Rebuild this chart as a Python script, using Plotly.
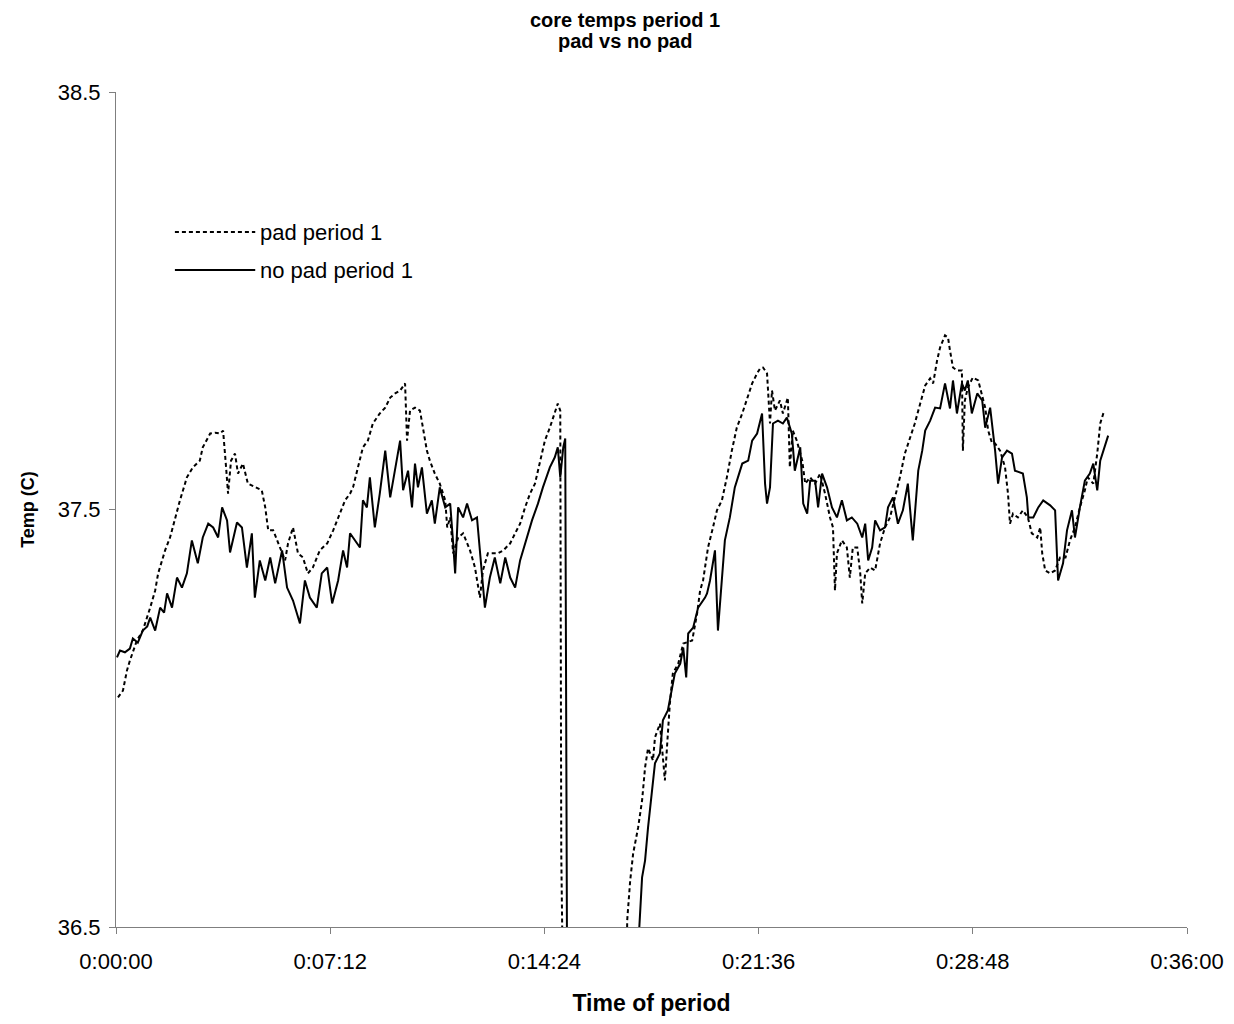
import plotly.graph_objects as go

# ---- data (time in seconds from start of period, temperature in deg C) ----
no_pad_t = [2, 8, 18, 28, 34, 44, 54, 63, 69, 79,
            89, 97, 103, 113, 123, 133, 143, 153, 165, 175,
            186, 196, 206, 214, 224, 230, 244, 254, 264, 274,
            280, 290, 301, 311, 321, 335, 345, 357, 371, 381,
            391, 405, 415, 426, 436, 448, 458, 466, 472, 482,
            492, 498, 506, 512, 522, 532, 543, 553, 563, 573,
            579, 589, 597, 603, 609, 617, 627, 637, 643, 653,
            664, 674, 680, 684, 690, 700, 708, 718, 728, 734,
            744, 754, 764, 775, 785, 795, 805, 815, 829, 839,
            851, 861, 875, 885, 891, 896, 902, 906, 910, 980,
            1051, 1055, 1061, 1067, 1073, 1081, 1087, 1097, 1103, 1113,
            1121, 1127, 1138, 1144, 1150, 1154, 1164, 1174, 1188, 1192,
            1198, 1208, 1214, 1222, 1228, 1238, 1248, 1263, 1275, 1283,
            1293, 1303, 1309, 1313, 1319, 1325, 1335, 1345, 1353, 1363,
            1369, 1380, 1386, 1394, 1400, 1410, 1416, 1424, 1434, 1444,
            1454, 1464, 1474, 1484, 1495, 1505, 1511, 1517, 1525, 1531,
            1541, 1551, 1557, 1567, 1577, 1587, 1597, 1607, 1618, 1626,
            1632, 1642, 1652, 1662, 1672, 1682, 1688, 1696, 1706, 1712,
            1718, 1726, 1737, 1747, 1753, 1763, 1773, 1779, 1787, 1797,
            1807, 1813, 1829, 1837, 1840, 1850, 1860, 1870, 1884, 1894,
            1900, 1910, 1918, 1928, 1934, 1944, 1954, 1964, 1971, 1979,
            1985, 2001]
no_pad_temp = [37.146, 37.162, 37.158, 37.167, 37.191, 37.181, 37.210, 37.220, 37.241, 37.210,
               37.265, 37.253, 37.299, 37.265, 37.337, 37.313, 37.347, 37.426, 37.371, 37.433,
               37.466, 37.457, 37.433, 37.505, 37.474, 37.397, 37.469, 37.457, 37.361, 37.443,
               37.289, 37.378, 37.330, 37.385, 37.323, 37.402, 37.313, 37.282, 37.227, 37.330,
               37.289, 37.265, 37.347, 37.361, 37.275, 37.330, 37.402, 37.361, 37.443, 37.426,
               37.409, 37.522, 37.505, 37.577, 37.457, 37.538, 37.641, 37.529, 37.593, 37.665,
               37.546, 37.593, 37.505, 37.610, 37.553, 37.601, 37.490, 37.522, 37.466, 37.553,
               37.505, 37.514, 37.419, 37.347, 37.505, 37.481, 37.514, 37.474, 37.481, 37.395,
               37.265, 37.337, 37.385, 37.323, 37.385, 37.337, 37.313, 37.378, 37.433, 37.474,
               37.514, 37.553, 37.601, 37.625, 37.649, 37.577, 37.649, 37.670, 36.30, 36.20,
               36.30, 36.49, 36.619, 36.659, 36.738, 36.820, 36.892, 36.916, 36.995, 37.019,
               37.066, 37.107, 37.131, 37.169, 37.098, 37.203, 37.217, 37.265, 37.289, 37.299,
               37.330, 37.402, 37.210, 37.330, 37.426, 37.481, 37.553, 37.610, 37.617, 37.665,
               37.682, 37.730, 37.562, 37.514, 37.553, 37.706, 37.713, 37.706, 37.720, 37.682,
               37.593, 37.649, 37.514, 37.490, 37.569, 37.569, 37.505, 37.586, 37.553, 37.505,
               37.481, 37.522, 37.474, 37.481, 37.466, 37.433, 37.466, 37.378, 37.409, 37.474,
               37.450, 37.457, 37.505, 37.529, 37.466, 37.498, 37.562, 37.426, 37.593, 37.641,
               37.689, 37.713, 37.744, 37.742, 37.802, 37.742, 37.809, 37.730, 37.802, 37.785,
               37.809, 37.730, 37.778, 37.761, 37.696, 37.744, 37.641, 37.562, 37.625, 37.641,
               37.634, 37.593, 37.586, 37.529, 37.481, 37.481, 37.505, 37.522, 37.510, 37.498,
               37.330, 37.371, 37.450, 37.498, 37.433, 37.505, 37.569, 37.586, 37.610, 37.546,
               37.617, 37.677]

pad_t = [4, 14, 22, 28, 42, 54, 69, 79, 85, 93,
         99, 109, 119, 129, 143, 155, 169, 175, 190, 200,
         210, 216, 222, 226, 232, 240, 246, 256, 266, 280,
         294, 301, 307, 317, 331, 341, 347, 357, 367, 377,
         387, 397, 411, 426, 438, 452, 462, 472, 478, 488,
         498, 508, 518, 532, 543, 553, 563, 573, 583, 587,
         593, 603, 613, 619, 627, 633, 643, 653, 664, 668,
         674, 680, 690, 700, 714, 724, 734, 740, 750, 760,
         770, 781, 795, 805, 815, 825, 835, 845, 855, 865,
         875, 881, 891, 896, 898, 902, 960, 1029, 1031, 1037,
         1043, 1053, 1061, 1067, 1073, 1083, 1087, 1097, 1107, 1113,
         1117, 1123, 1134, 1144, 1162, 1172, 1178, 1184, 1188, 1194,
         1204, 1212, 1222, 1232, 1242, 1252, 1263, 1273, 1283, 1293,
         1299, 1305, 1313, 1319, 1323, 1329, 1339, 1345, 1355, 1359,
         1365, 1373, 1384, 1390, 1400, 1410, 1420, 1430, 1440, 1446,
         1450, 1454, 1464, 1474, 1480, 1486, 1495, 1501, 1505, 1511,
         1521, 1531, 1541, 1551, 1561, 1571, 1581, 1591, 1601, 1611,
         1622, 1632, 1642, 1648, 1656, 1662, 1672, 1678, 1682, 1688,
         1696, 1706, 1708, 1712, 1718, 1728, 1739, 1747, 1753, 1759,
         1767, 1773, 1783, 1793, 1799, 1803, 1809, 1819, 1829, 1839,
         1847, 1858, 1864, 1868, 1874, 1884, 1894, 1904, 1915, 1924,
         1934, 1944, 1954, 1960, 1971, 1979, 1985, 1993]
pad_temp = [37.050, 37.066, 37.114, 37.138, 37.186, 37.210, 37.265, 37.306, 37.347, 37.378,
            37.402, 37.433, 37.481, 37.522, 37.577, 37.601, 37.617, 37.649, 37.682, 37.684,
            37.682, 37.689, 37.601, 37.538, 37.617, 37.634, 37.586, 37.610, 37.562, 37.553,
            37.546, 37.505, 37.450, 37.450, 37.409, 37.378, 37.419, 37.457, 37.395, 37.385,
            37.347, 37.361, 37.402, 37.419, 37.450, 37.490, 37.522, 37.538, 37.553, 37.601,
            37.649, 37.665, 37.706, 37.730, 37.744, 37.768, 37.778, 37.785, 37.802, 37.665,
            37.737, 37.744, 37.737, 37.696, 37.641, 37.617, 37.586, 37.562, 37.522, 37.457,
            37.481, 37.395, 37.433, 37.443, 37.402, 37.361, 37.289, 37.354, 37.395, 37.395,
            37.395, 37.402, 37.419, 37.443, 37.466, 37.505, 37.538, 37.562, 37.617, 37.665,
            37.696, 37.720, 37.754, 37.737, 36.676, 36.30, 36.20, 36.30, 36.516, 36.611,
            36.676, 36.738, 36.803, 36.882, 36.928, 36.899, 36.954, 36.987, 36.851, 36.963,
            37.035, 37.107, 37.131, 37.179, 37.186, 37.251, 37.306, 37.330, 37.361, 37.409,
            37.457, 37.498, 37.522, 37.577, 37.641, 37.696, 37.730, 37.768, 37.802, 37.826,
            37.838, 37.840, 37.826, 37.706, 37.785, 37.737, 37.761, 37.730, 37.768, 37.601,
            37.689, 37.665, 37.617, 37.562, 37.577, 37.562, 37.586, 37.538, 37.481, 37.457,
            37.306, 37.395, 37.426, 37.409, 37.337, 37.409, 37.409, 37.347, 37.275, 37.347,
            37.361, 37.354, 37.419, 37.457, 37.481, 37.529, 37.577, 37.634, 37.672, 37.706,
            37.754, 37.797, 37.814, 37.802, 37.857, 37.888, 37.917, 37.912, 37.881, 37.840,
            37.833, 37.833, 37.641, 37.761, 37.792, 37.816, 37.809, 37.768, 37.744, 37.689,
            37.658, 37.658, 37.641, 37.601, 37.538, 37.466, 37.490, 37.481, 37.498, 37.481,
            37.443, 37.433, 37.457, 37.395, 37.354, 37.347, 37.354, 37.385, 37.385, 37.426,
            37.457, 37.505, 37.546, 37.577, 37.562, 37.634, 37.706, 37.737]

series_names = ["pad period 1", "no pad period 1"]
title_lines = ["core temps period 1", "pad vs no pad"]
x_tick_vals = [0, 432, 864, 1296, 1728, 2160]
x_tick_labels = ["0:00:00", "0:07:12", "0:14:24", "0:21:36", "0:28:48", "0:36:00"]
y_tick_vals = [36.5, 37.5, 38.5]
y_tick_labels = ["36.5", "37.5", "38.5"]

FONT = "Liberation Sans, Arial, sans-serif"
PAD_DASH = "4px,3px"
AXIS_COLOR = "#7f7f7f"

fig = go.Figure()
fig.add_trace(go.Scatter(x=pad_t, y=pad_temp, mode="lines", name=series_names[0],
                         line=dict(color="black", width=2, dash=PAD_DASH),
                         showlegend=False))
fig.add_trace(go.Scatter(x=no_pad_t, y=no_pad_temp, mode="lines", name=series_names[1],
                         line=dict(color="black", width=2),
                         showlegend=False))

# legend drawn inside the plot (long line samples as in the original)
leg_rows = [0.8323, 0.7868]
for name, yy, dash in zip(series_names, leg_rows, [PAD_DASH, "solid"]):
    fig.add_shape(type="line", xref="paper", yref="paper",
                  x0=0.055, x1=0.130, y0=yy, y1=yy,
                  line=dict(color="black", width=2, dash=dash))
    fig.add_annotation(xref="paper", yref="paper", x=0.1326, y=yy, text=name,
                       showarrow=False, xanchor="left", yanchor="middle",
                       font=dict(family=FONT, size=22, color="black"))

# two-line bold chart title
for line_text, yy in zip(title_lines, [1.0862, 1.0611]):
    fig.add_annotation(xref="paper", yref="paper", x=0.4753, y=yy,
                       text="<b>" + line_text + "</b>", showarrow=False,
                       xanchor="center", yanchor="middle",
                       font=dict(family=FONT, size=20, color="black"))

fig.update_layout(
    width=1218, height=1008,
    margin=dict(l=108, r=39, t=84, b=89, autoexpand=False),
    paper_bgcolor="white", plot_bgcolor="white",
    font=dict(family=FONT, size=22, color="black"),
)
fig.update_xaxes(range=[0, 2160], tickvals=x_tick_vals, ticktext=x_tick_labels,
                 ticks="outside", ticklen=6, tickcolor=AXIS_COLOR,
                 showline=True, linecolor=AXIS_COLOR, linewidth=1,
                 showgrid=False, zeroline=False, ticklabelstandoff=9,
                 automargin=False,
                 tickfont=dict(family=FONT, size=22),
                 title=dict(text="<b>Time of period</b>", standoff=28,
                            font=dict(family=FONT, size=23)))
fig.update_yaxes(range=[36.5, 38.5], tickvals=y_tick_vals, ticktext=y_tick_labels,
                 ticks="outside", ticklen=6, tickcolor=AXIS_COLOR,
                 showline=True, linecolor=AXIS_COLOR, linewidth=1,
                 showgrid=False, zeroline=False, ticklabelstandoff=4,
                 automargin=False,
                 tickfont=dict(family=FONT, size=22),
                 title=dict(text="<b>Temp (C)</b>", standoff=18,
                            font=dict(family=FONT, size=18)))

fig.write_html("out.html")
